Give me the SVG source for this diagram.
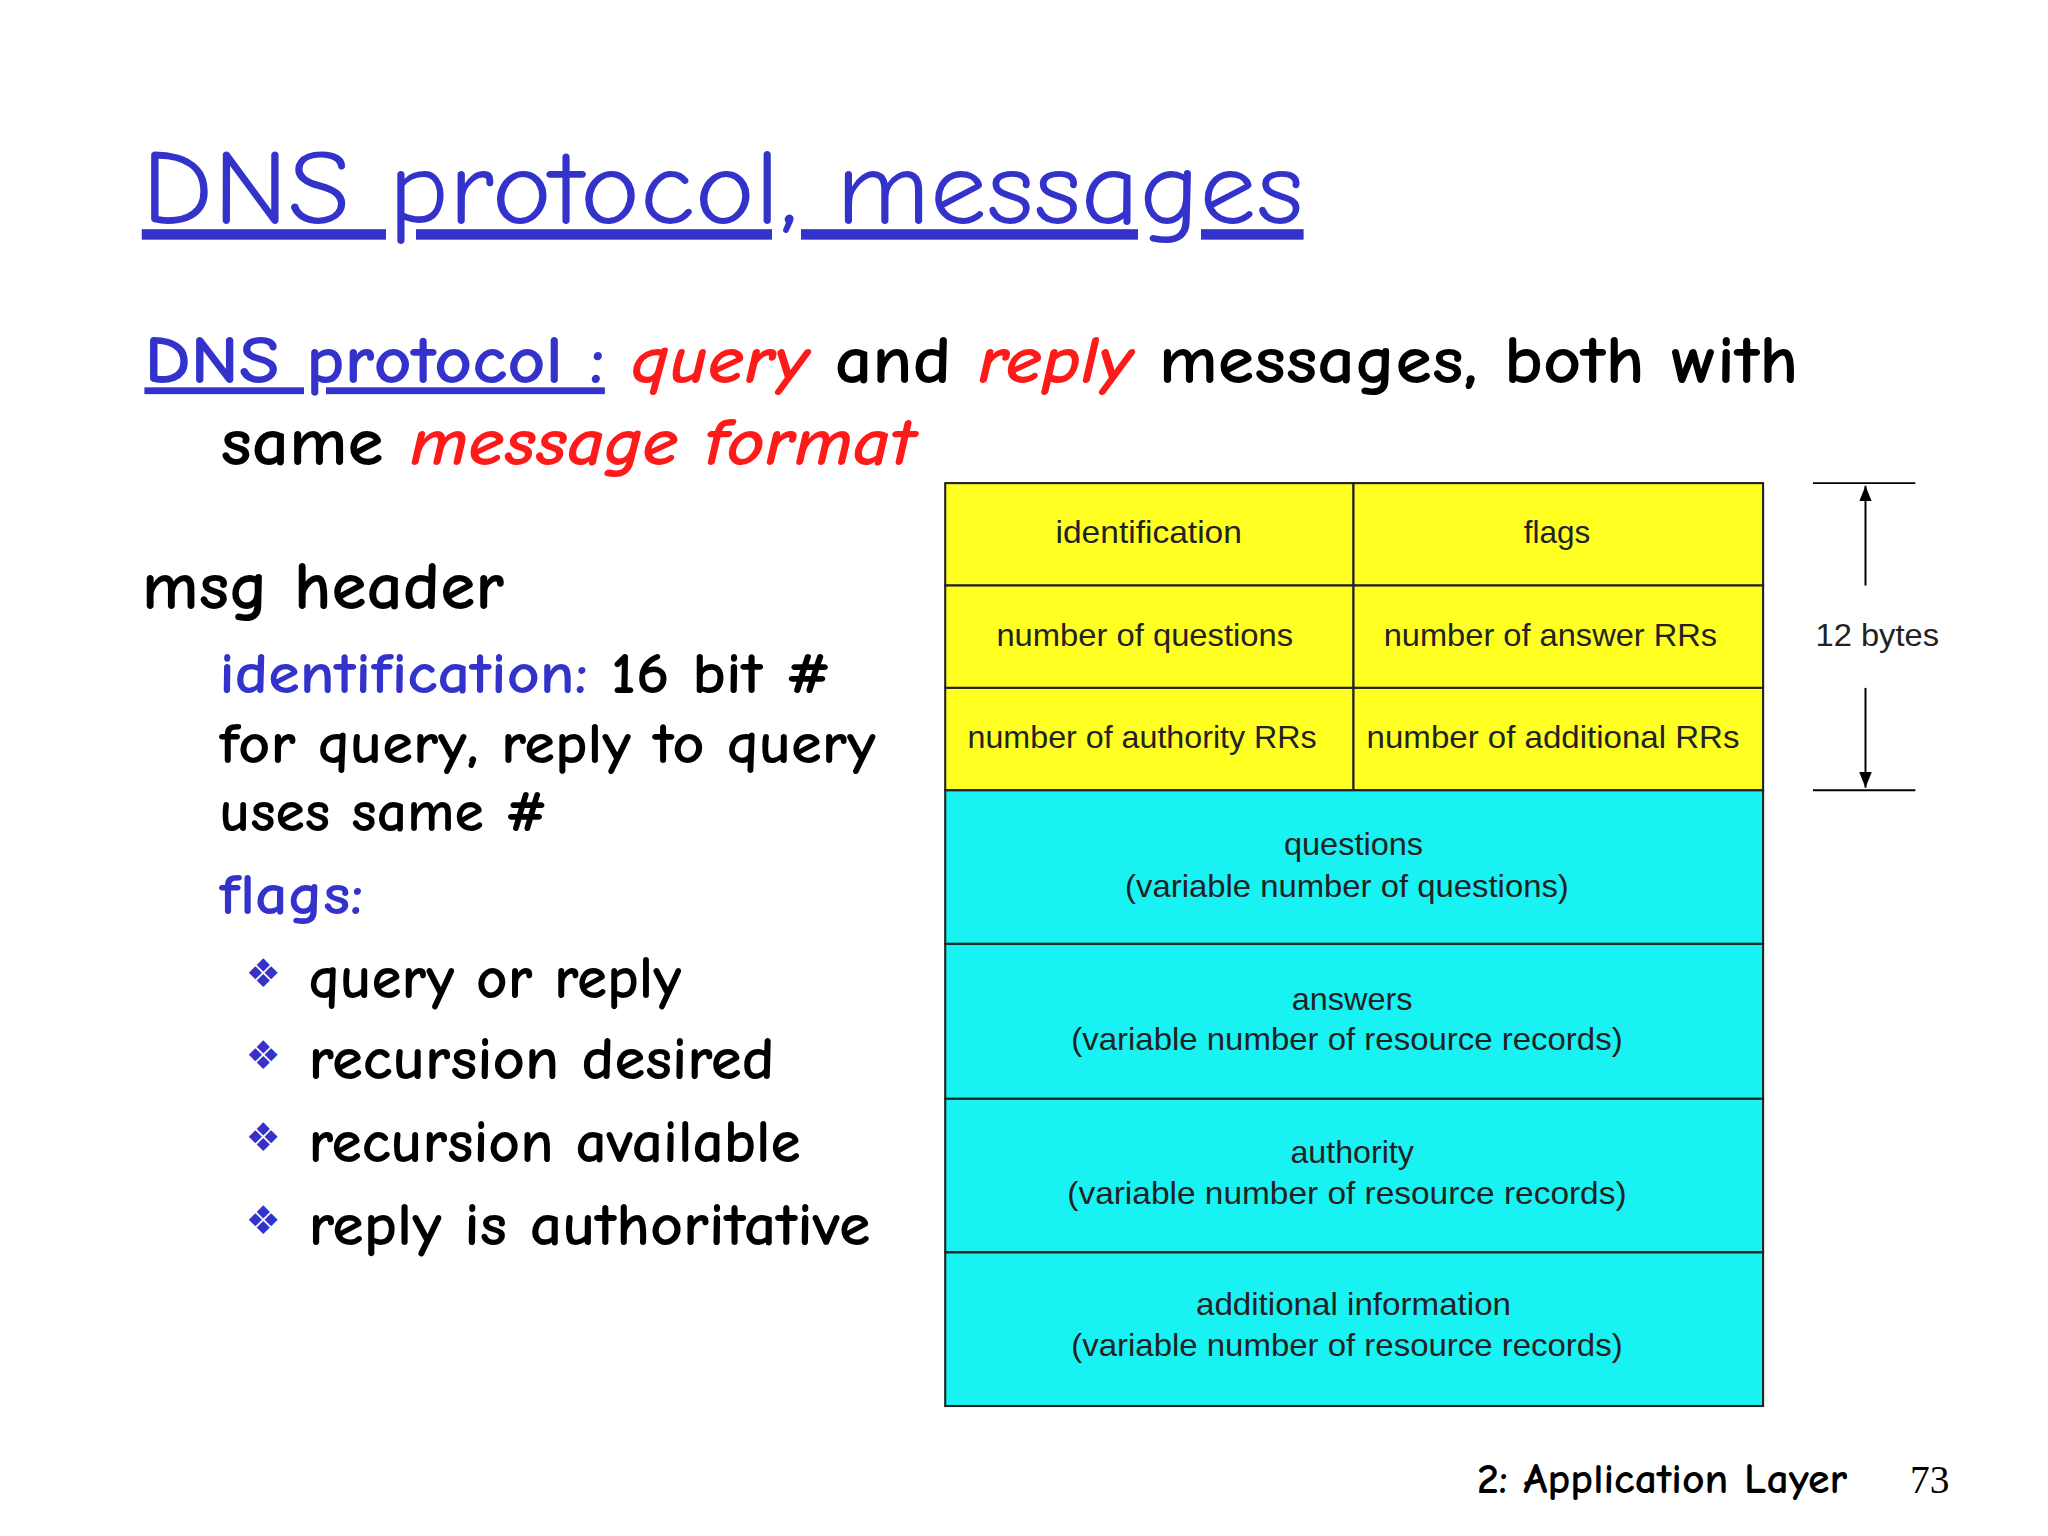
<svg xmlns="http://www.w3.org/2000/svg" width="2048" height="1536" viewBox="0 0 2048 1536">
<style>
.c{font-family:"Comic Neue","Open Sans","DejaVu Sans",sans-serif;font-weight:bold}
.b{fill:#3333CC}.r{fill:#FF1A1A;font-style:italic}.k{fill:#000}
.t{font-family:"Liberation Sans",Arial,sans-serif;font-size:24px;fill:#222;text-anchor:middle}
.y{fill:#FFFF22;stroke:#222;stroke-width:1.6}.cy{fill:#18F2F2;stroke:#222;stroke-width:1.6}
</style>
<defs><marker id="ah" viewBox="0 0 10 10" refX="10" refY="5" markerWidth="8" markerHeight="8" orient="auto-start-reverse"><path d="M0,1 L10,5 L0,9 z" fill="#000"/></marker></defs>
<rect width="2048" height="1536" fill="#fff"/>
<g transform="scale(1.3128)">
<g id="text">
<text class="c b" x="108" y="170" font-size="80" textLength="885" lengthAdjust="spacingAndGlyphs" text-decoration="underline" style="font-weight:normal">DNS protocol, messages</text>
<text class="c" x="110" y="292" font-size="52" textLength="1260" lengthAdjust="spacingAndGlyphs"><tspan class="b" text-decoration="underline">DNS protocol :</tspan> <tspan class="r">query</tspan> <tspan class="k">and</tspan> <tspan class="r">reply</tspan> <tspan class="k">messages, both with</tspan></text>
<text class="c" x="168" y="354" font-size="52" textLength="529" lengthAdjust="spacingAndGlyphs"><tspan class="k">same</tspan> <tspan class="r">message format</tspan></text>
<text class="c k" x="108" y="464" font-size="52" textLength="276" lengthAdjust="spacingAndGlyphs">msg header</text>
<text class="c" x="167" y="528" font-size="44" textLength="466" lengthAdjust="spacingAndGlyphs"><tspan class="b">identification:</tspan><tspan class="k"> 16 bit #</tspan></text>
<text class="c k" x="167" y="581" font-size="44" textLength="500" lengthAdjust="spacingAndGlyphs">for query, reply to query</text>
<text class="c k" x="167" y="633" font-size="44" textLength="250" lengthAdjust="spacingAndGlyphs">uses same #</text>
<text class="c b" x="167" y="696" font-size="44" textLength="110" lengthAdjust="spacingAndGlyphs">flags:</text>
<g font-size="30" class="b" font-family="DejaVu Sans,sans-serif">
<text x="187" y="752">❖</text><text x="187" y="814">❖</text><text x="187" y="877">❖</text><text x="187" y="940">❖</text></g>
<text class="c k" x="235" y="760" font-size="46" textLength="284" lengthAdjust="spacingAndGlyphs">query or reply</text>
<text class="c k" x="235" y="822" font-size="46" textLength="355" lengthAdjust="spacingAndGlyphs">recursion desired</text>
<text class="c k" x="235" y="885" font-size="46" textLength="375" lengthAdjust="spacingAndGlyphs">recursion available</text>
<text class="c k" x="235" y="948" font-size="46" textLength="428" lengthAdjust="spacingAndGlyphs">reply is authoritative</text>
<text class="c k" x="1125" y="1137" font-size="32" textLength="282" lengthAdjust="spacingAndGlyphs">2: Application Layer</text>
<text x="1455" y="1137" font-size="30" font-family="Liberation Serif,serif" fill="#000">73</text>
</g>
<g id="header">
<rect class="y" x="720" y="368" width="311" height="78"/><rect class="y" x="1031" y="368" width="312" height="78"/>
<rect class="y" x="720" y="446" width="311" height="78"/><rect class="y" x="1031" y="446" width="312" height="78"/>
<rect class="y" x="720" y="524" width="311" height="78"/><rect class="y" x="1031" y="524" width="312" height="78"/>
<text class="t" x="875" y="414" textLength="142" lengthAdjust="spacingAndGlyphs">identification</text><text class="t" x="1186" y="414">flags</text>
<text class="t" x="872" y="492" textLength="226" lengthAdjust="spacingAndGlyphs">number of questions</text>
<text class="t" x="1181" y="492" textLength="254" lengthAdjust="spacingAndGlyphs">number of answer RRs</text>
<text class="t" x="870" y="570" textLength="266" lengthAdjust="spacingAndGlyphs">number of authority RRs</text>
<text class="t" x="1183" y="570" textLength="284" lengthAdjust="spacingAndGlyphs">number of additional RRs</text>
</g>
<g id="body">
<rect class="cy" x="720" y="602" width="623" height="117"/>
<rect class="cy" x="720" y="719" width="623" height="118"/>
<rect class="cy" x="720" y="837" width="623" height="117"/>
<rect class="cy" x="720" y="954" width="623" height="117"/>
<text class="t" x="1031" y="651" textLength="106" lengthAdjust="spacingAndGlyphs">questions</text><text class="t" x="1026" y="683" textLength="338" lengthAdjust="spacingAndGlyphs">(variable number of questions)</text>
<text class="t" x="1030" y="769" textLength="92" lengthAdjust="spacingAndGlyphs">answers</text><text class="t" x="1026" y="800" textLength="420" lengthAdjust="spacingAndGlyphs">(variable number of resource records)</text>
<text class="t" x="1030" y="886" textLength="94" lengthAdjust="spacingAndGlyphs">authority</text><text class="t" x="1026" y="917" textLength="426" lengthAdjust="spacingAndGlyphs">(variable number of resource  records)</text>
<text class="t" x="1031" y="1002" textLength="240" lengthAdjust="spacingAndGlyphs">additional information</text><text class="t" x="1026" y="1033" textLength="420" lengthAdjust="spacingAndGlyphs">(variable number of resource records)</text>
</g>
<g id="connectors" stroke="#000" stroke-width="1.5">
<line x1="1381" y1="368" x2="1459" y2="368"/><line x1="1381" y1="602" x2="1459" y2="602"/>
<line x1="1421" y1="446" x2="1421" y2="370" marker-end="url(#ah)"/>
<line x1="1421" y1="524" x2="1421" y2="600" marker-end="url(#ah)"/>
</g>
<text class="t" x="1430" y="492" textLength="94" lengthAdjust="spacingAndGlyphs">12 bytes</text>
</g>
</svg>
